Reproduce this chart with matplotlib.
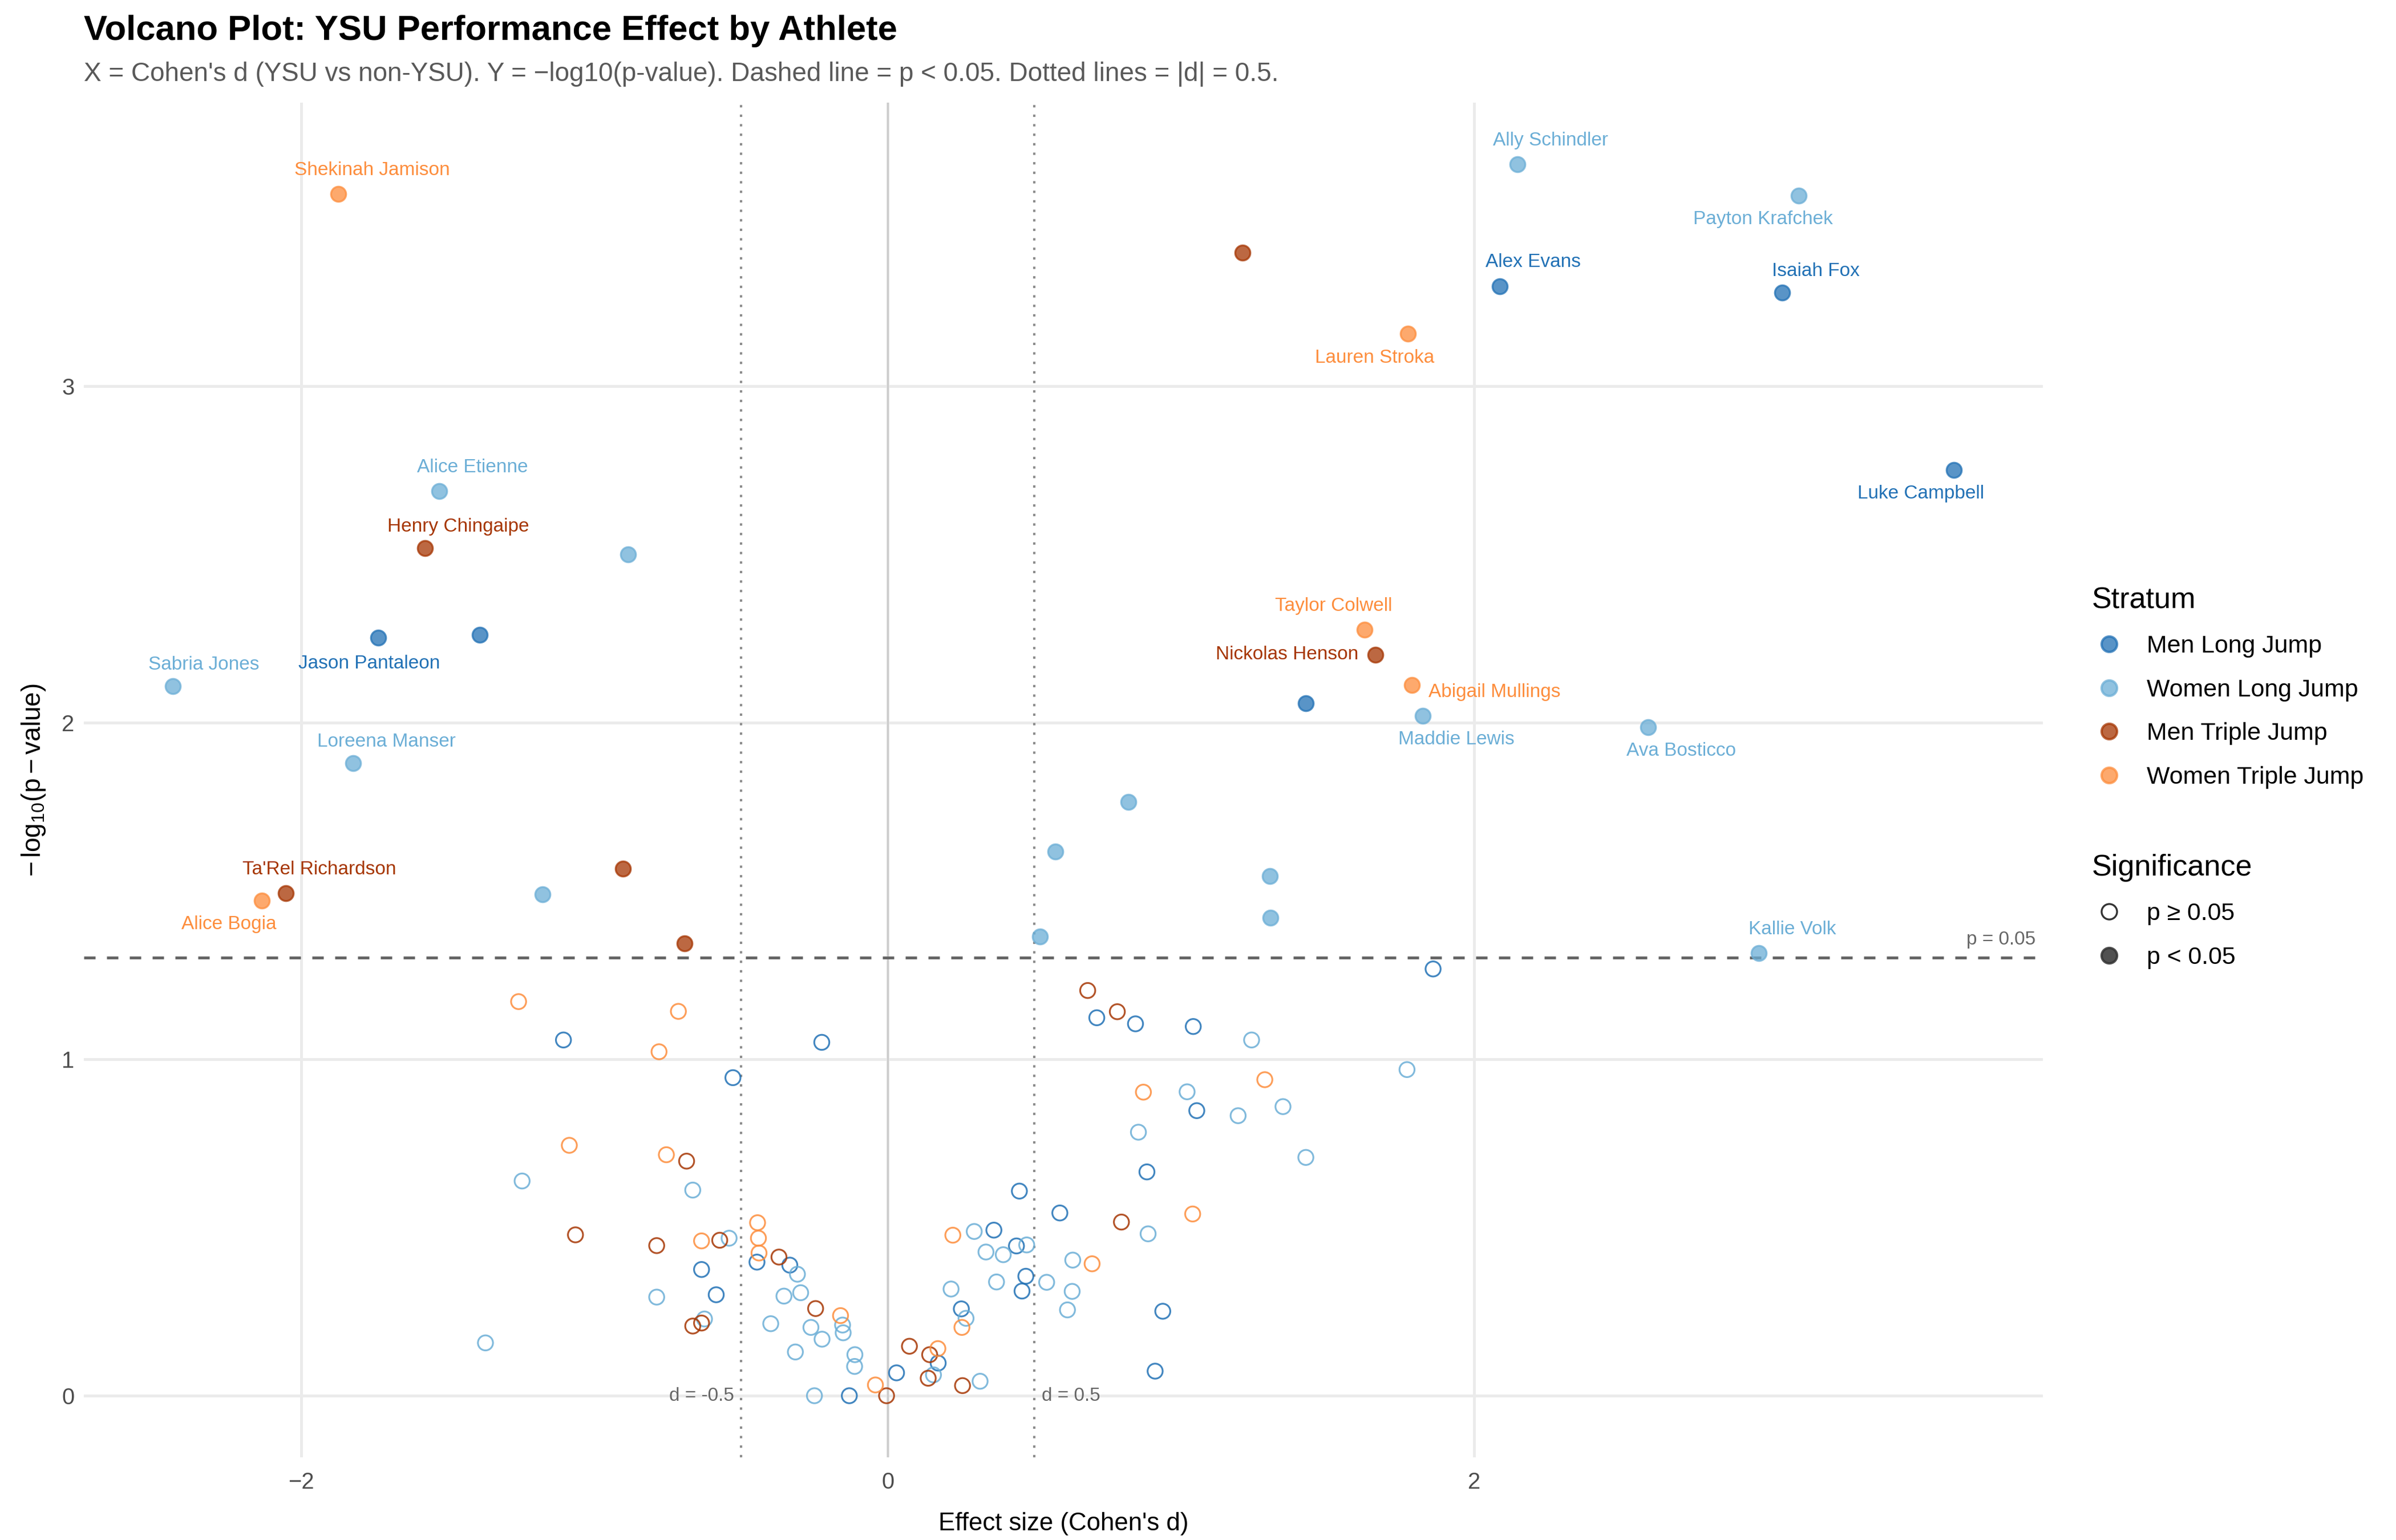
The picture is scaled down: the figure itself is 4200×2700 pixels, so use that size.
import matplotlib
matplotlib.use("Agg")
import matplotlib.pyplot as plt
from matplotlib.lines import Line2D
import numpy as np

plt.rcParams['font.family'] = ['Liberation Sans', 'DejaVu Sans']
plt.rcParams['mathtext.fontset'] = 'custom'
plt.rcParams['mathtext.rm'] = 'Liberation Sans'
plt.rcParams['mathtext.it'] = 'Liberation Sans:italic'

# --- data: Cohen's d and -log10(p) per athlete, by stratum ---
strata = ["Men Long Jump", "Women Long Jump", "Men Triple Jump", "Women Triple Jump"]
colors = ["#2171b5", "#6baed6", "#a63603", "#fd8d3c"]

mlj_names = ["Alex Evans", "Isaiah Fox", "Luke Campbell", "Jason Pantaleon", "", ""]
mlj_d = [2.088, 3.051, 3.636, -1.737, -1.391, 1.426,
         -1.106, -0.225, -0.528, -0.446, -0.334, -0.635, -0.585, -0.131, 0.030,
         0.172, 0.251, 0.362, 0.439, 0.449, 0.471, 0.458, 0.587, 0.713, 0.845,
         1.042, 1.054, 0.884, 0.938, 0.912, 1.860]
mlj_y = [3.297, 3.277, 2.751, 2.253, 2.261, 2.058,
         1.057, 1.050, 0.945, 0.397, 0.388, 0.375, 0.300, 0.000, 0.068,
         0.097, 0.258, 0.492, 0.445, 0.608, 0.355, 0.311, 0.543, 1.123, 1.105,
         1.097, 0.847, 0.665, 0.251, 0.073, 1.268]

wlj_names = ["Ally Schindler", "Payton Krafchek", "Alice Etienne", "", "Sabria Jones",
             "Loreena Manser", "", "Maddie Lewis", "Ava Bosticco", "", "", "", "", "",
             "Kallie Volk"]
wlj_d = [2.148, 3.107, -1.529, -0.885, -2.438, -1.823, -1.177, 1.825, 2.593, 0.821,
         0.571, 1.303, 1.306, 0.519, 2.971,
         -1.247, -0.665, -0.541, -0.308, -0.788, -0.354, -0.297, -0.154, -0.152,
         -0.625, -0.399, -0.262, -0.224, -1.372, -0.315, -0.112, -0.113, -0.250,
         0.156, 0.315, 0.267, 0.216, 0.295, 0.335, 0.394, 0.474, 0.371, 0.542,
         0.631, 0.629, 0.613, 0.888, 0.855, 1.021, 1.195, 1.348, 1.426, 1.241, 1.771]
wlj_y = [3.659, 3.566, 2.688, 2.500, 2.108, 1.880, 1.490, 2.020, 1.986, 1.764,
         1.617, 1.544, 1.420, 1.364, 1.315,
         0.638, 0.611, 0.468, 0.361, 0.293, 0.296, 0.306, 0.210, 0.187,
         0.228, 0.214, 0.203, 0.168, 0.157, 0.130, 0.122, 0.087, 0.000,
         0.062, 0.043, 0.230, 0.317, 0.488, 0.427, 0.419, 0.448, 0.338, 0.337,
         0.403, 0.310, 0.255, 0.481, 0.783, 0.903, 0.832, 0.859, 0.708, 1.057, 0.969]

mtj_names = ["", "Henry Chingaipe", "Ta'Rel Richardson", "", "", "Nickolas Henson"]
mtj_d = [1.210, -1.578, -2.053, -0.904, -0.693, 1.663,
         -1.065, -0.788, -0.686, -0.573, -0.371, -0.246, -0.635, -0.665, -0.004,
         0.074, 0.143, 0.138, 0.255, 0.682, 0.783, 0.797]
mtj_y = [3.397, 2.519, 1.493, 1.566, 1.344, 2.202,
         0.478, 0.446, 0.697, 0.462, 0.412, 0.259, 0.216, 0.207, 0.000,
         0.147, 0.122, 0.052, 0.030, 1.204, 1.141, 0.516]

wtj_names = ["Shekinah Jamison", "Lauren Stroka", "Alice Bogia", "Taylor Colwell",
             "Abigail Mullings"]
wtj_d = [-1.873, 1.774, -2.134, 1.626, 1.788,
         -1.259, -0.714, -0.780, -1.086, -0.755, -0.635, -0.444, -0.441, -0.439,
         -0.161, -0.042, 0.171, 0.253, 0.222, 0.697, 0.872, 1.040, 1.286]
wtj_y = [3.571, 3.155, 1.471, 2.276, 2.112,
         1.171, 1.142, 1.022, 0.744, 0.716, 0.460, 0.514, 0.468, 0.424,
         0.238, 0.032, 0.140, 0.203, 0.477, 0.392, 0.902, 0.540, 0.939]

all_d = [mlj_d, wlj_d, mtj_d, wtj_d]
all_y = [mlj_y, wlj_y, mtj_y, wtj_y]
all_names = [mlj_names, wlj_names, mtj_names, wtj_names]

p_cut = -np.log10(0.05)
d_cut = 0.5

# label placement (offset in points, alignment)
label_pos = {
    "Shekinah Jamison": (14, 10, "center"), "Ally Schindler": (14, 10, "center"),
    "Payton Krafchek": (-15, -10, "center"), "Alex Evans": (14, 10, "center"),
    "Isaiah Fox": (14, 9, "center"), "Lauren Stroka": (-14, -10, "center"),
    "Luke Campbell": (-14, -10, "center"), "Alice Etienne": (14, 10, "center"),
    "Henry Chingaipe": (14, 9, "center"), "Jason Pantaleon": (-4, -11, "center"),
    "Sabria Jones": (13, 9, "center"), "Loreena Manser": (14, 9, "center"),
    "Ta'Rel Richardson": (14, 10, "center"), "Alice Bogia": (-14, -10, "center"),
    "Taylor Colwell": (-13, 10, "center"), "Nickolas Henson": (-7, 0, "right"),
    "Abigail Mullings": (7, -3, "left"), "Maddie Lewis": (14, -10, "center"),
    "Ava Bosticco": (14, -10, "center"), "Kallie Volk": (14, 10, "center"),
}

fig = plt.figure(figsize=(14, 9), dpi=300)
ax = fig.add_axes([147/4200, 1-2555/2700, (3581-147)/4200, (2555-180)/2700])

for s in ax.spines.values():
    s.set_visible(False)
ax.tick_params(length=0, labelsize=9.6, labelcolor="#4d4d4d")
ax.tick_params(axis='x', pad=6)
ax.tick_params(axis='y', pad=4)
ax.set_xticks([-2, 0, 2])
ax.set_yticks([0, 1, 2, 3])
ax.grid(True, color="#ebebeb", lw=1.2, zorder=0)
ax.set_axisbelow(True)

ax.axvline(0, color="#cccccc", lw=0.8, zorder=1)
ax.axhline(p_cut, color="#666666", lw=1.2, ls=(0, (4, 4)), zorder=1)
for v in (-d_cut, d_cut):
    ax.axvline(v, color="#8c8c8c", lw=1.0, ls=(0, (1, 3)), zorder=1)

for d, y, names, col in zip(all_d, all_y, all_names, colors):
    d = np.array(d)
    y = np.array(y)
    sig = y > p_cut
    ax.scatter(d[~sig], y[~sig], s=40, facecolors="none", edgecolors=col,
               linewidths=0.75, alpha=0.85, zorder=3)
    ax.scatter(d[sig], y[sig], s=40, color=col, edgecolors=col,
               linewidths=0.8, alpha=0.75, zorder=4)
    for i, nm in enumerate(names):
        if not nm:
            continue
        dx, dy, ha = label_pos[nm]
        ax.annotate(nm, (d[i], y[i]), xytext=(dx, dy), textcoords="offset points",
                    ha=ha, va="center", fontsize=8, color=col, zorder=5)

# limits with 5% expansion
xs = np.concatenate([np.array(a) for a in all_d])
ys = np.concatenate([np.array(a) for a in all_y])
xr = xs.max() - xs.min()
yr = ys.max() - ys.min()
ax.set_xlim(xs.min() - 0.05*xr, xs.max() + 0.05*xr)
ax.set_ylim(ys.min() - 0.05*yr, ys.max() + 0.05*yr)

ax.annotate("d = -0.5", (-d_cut, 0), xytext=(-3, 0), textcoords="offset points",
            ha="right", va="center", fontsize=8, color="#666666")
ax.annotate("d = 0.5", (d_cut, 0), xytext=(3, 0), textcoords="offset points",
            ha="left", va="center", fontsize=8, color="#666666")
ax.annotate("p = 0.05", (ax.get_xlim()[1], p_cut), xytext=(-3, 4),
            textcoords="offset points", ha="right", va="bottom", fontsize=8,
            color="#666666")

ax.set_xlabel("Effect size (Cohen's d)", fontsize=10.5, labelpad=8)
ax.set_ylabel(r"$-\,\mathrm{log}_{10}(\mathrm{p}-\mathrm{value})$", fontsize=11,
              labelpad=6)

fig.text(147/4200, 1-70/2700, "Volcano Plot: YSU Performance Effect by Athlete",
         fontsize=14.8, fontweight="bold", ha="left", va="baseline")
fig.text(147/4200, 1-142/2700,
         "X = Cohen's d (YSU vs non-YSU). Y = \u2212log10(p-value). Dashed line = p < 0.05. "
         "Dotted lines = |d| = 0.5.",
         fontsize=11, color="#595959", ha="left", va="baseline")

# legends
h1 = [Line2D([], [], ls="", marker="o", markersize=6.5, markerfacecolor=c,
             markeredgecolor=c, alpha=0.75) for c in colors]
leg1 = fig.legend(h1, strata, title="Stratum", loc="upper left",
                  bbox_to_anchor=(3667/4200, 1-1028/2700), frameon=False,
                  fontsize=10.3, title_fontsize=12.5, alignment="left",
                  handletextpad=0.84, labelspacing=0.85, borderpad=0,
                  borderaxespad=0, handlelength=1.4)
h2 = [Line2D([], [], ls="", marker="o", markersize=6.5, markerfacecolor="none",
             markeredgecolor="#333333", markeredgewidth=0.8),
      Line2D([], [], ls="", marker="o", markersize=6.5, markerfacecolor="#333333",
             markeredgecolor="#333333", alpha=0.85)]
leg2 = fig.legend(h2, ["p \u2265 0.05", "p < 0.05"], title="Significance",
                  loc="upper left", bbox_to_anchor=(3667/4200, 1-1497/2700),
                  frameon=False, fontsize=10.3, title_fontsize=12.5, alignment="left",
                  handletextpad=0.84, labelspacing=0.85, borderpad=0,
                  borderaxespad=0, handlelength=1.4)

fig.savefig("out.png", dpi=300, facecolor="white")
